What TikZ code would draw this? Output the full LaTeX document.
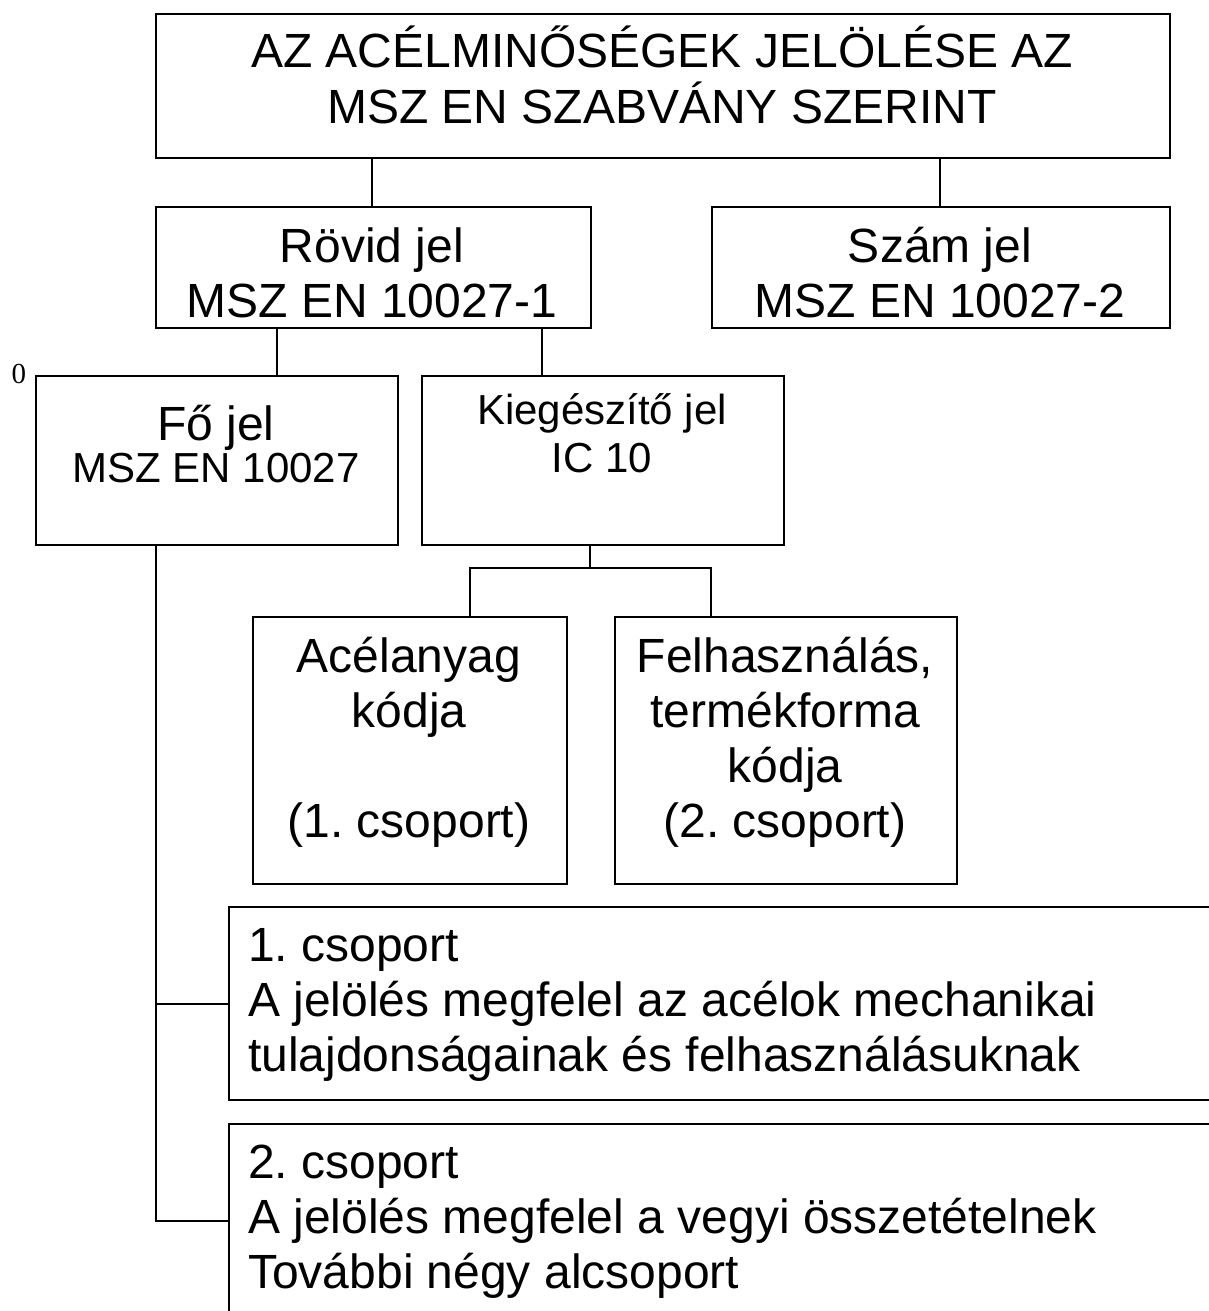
\documentclass[tikz,border=0pt]{standalone}
\usepackage{fontspec}
\setmainfont{Liberation Sans}
\newfontfamily\timesf{Liberation Serif}
\begin{document}
\frenchspacing
\begin{tikzpicture}[x=1pt,y=-1pt,
  box/.style={draw=black,line width=2pt,rectangle,inner sep=0pt,anchor=north west},
  txt/.style={inner sep=0pt,anchor=base,align=center,font=\frenchspacing\fontsize{48}{55}\selectfont},
  txtl/.style={inner sep=0pt,anchor=base west,align=left,font=\frenchspacing\fontsize{48}{55}\selectfont},
  con/.style={line width=2pt}]
\useasboundingbox (0,0) rectangle (1209,1311);
\clip (0,0) rectangle (1209,1311);
% boxes
\node[box,minimum width=1014pt,minimum height=144pt] (title) at (155,13) {};
\node[box,minimum width=435pt,minimum height=121pt] (rovid) at (155,206) {};
\node[box,minimum width=458pt,minimum height=121pt] (szam) at (711,206) {};
\node[box,minimum width=362pt,minimum height=169pt] (fo) at (35,375) {};
\node[box,minimum width=362pt,minimum height=169pt] (kieg) at (421,375) {};
\node[box,minimum width=314pt,minimum height=267pt] (acel) at (252,616) {};
\node[box,minimum width=342pt,minimum height=267pt] (felh) at (614,616) {};
\node[box,minimum width=1000pt,minimum height=193pt] (b1) at (228,906) {};
\node[box,minimum width=1000pt,minimum height=193pt] (b2) at (228,1123) {};
% texts (anchor base = baseline of last line)
\node[txt,font=\frenchspacing\fontsize{48}{56}\selectfont] (title-t) at (662,124) {AZ ACÉLMINŐSÉGEK JELÖLÉSE AZ\\MSZ EN SZABVÁNY SZERINT};
\node[txt] (rovid-t) at (372,317) {Rövid jel\\MSZ EN 10027-1};
\node[txt] (szam-t) at (940,317) {Szám jel\\MSZ EN 10027-2};
\node[txt] (fo-t1) at (216,440) {Fő jel};
\node[txt,font=\frenchspacing\fontsize{42}{48}\selectfont] (fo-t2) at (216,482) {MSZ EN 10027};
\node[txt,font=\frenchspacing\fontsize{42}{48}\selectfont] (kieg-t) at (602,472) {Kiegészítő jel\\IC 10};
\node[txt] (acel-t) at (409,837) {Acélanyag\\kódja\\[55pt](1. csoport)};
\node[txt] (felh-t) at (785,837) {Felhasználás,\\termékforma\\kódja\\(2. csoport)};
\node[txtl] (b1-t) at (248,1071) {1. csoport\\A jelölés megfelel az acélok mechanikai\\tulajdonságainak és felhasználásuknak};
\node[txtl] (b2-t) at (248,1288) {2. csoport\\A jelölés megfelel a vegyi összetételnek\\További négy alcsoport};
\node[inner sep=0pt,anchor=base,font=\timesf\fontsize{29}{33}\selectfont] (zero) at (19,383) {0};
% connectors
\draw[con] (title.south -| rovid-t.base) -- (rovid.north -| rovid-t.base);
\draw[con] (title.south -| szam-t.base) -- (szam.north -| szam-t.base);
\draw[con] (277,0 |- rovid.south) -- (277,0 |- fo.north);
\draw[con] (542,0 |- rovid.south) -- (542,0 |- kieg.north);
\coordinate (kj) at (590,568);
\draw[con] (kj |- kieg.south) -- (kj);
\draw[con] (470,0 |- acel.north) -- (470,0 |- kj) -- (711,0 |- kj) -- (711,0 |- felh.north);
\draw[con] (156,0 |- fo.south) -- (156,0 |- b2.west) -- (b2.west);
\draw[con] (156,0 |- b1.west) -- (b1.west);
\end{tikzpicture}
\end{document}
